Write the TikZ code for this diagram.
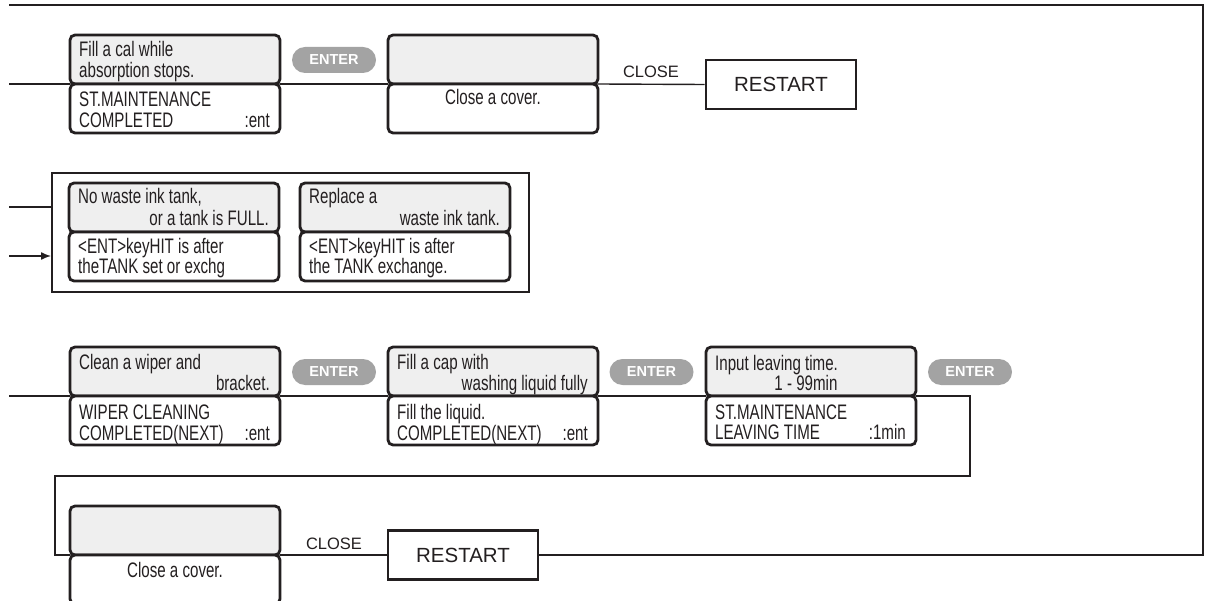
\documentclass[tikz,border=0pt]{standalone}
\usepackage{fontspec}
\setmainfont{Liberation Sans}
\newfontfamily\narrowsans{Liberation Sans}[FakeStretch=0.72]
\usetikzlibrary{calc,arrows.meta}
\definecolor{ink}{HTML}{231F20}
\definecolor{panelgray}{HTML}{EFEFEF}
\definecolor{pillgray}{HTML}{A3A3A3}
\begin{document}
\begin{tikzpicture}[x=1pt,y=-1pt,
  panel/.style={draw=ink, line width=2.8pt, rounded corners=5pt, minimum width=210, minimum height=49, inner sep=0pt, outer sep=0pt, anchor=north west},
  toppanel/.style={panel, fill=panelgray},
  botpanel/.style={panel, fill=white},
  txt/.style={font=\narrowsans\fontsize{21}{22}\selectfont, inner sep=0pt, text=ink},
  tl/.style={txt, anchor=base west},
  tr/.style={txt, anchor=base east},
  tc/.style={txt, anchor=base},
  pill/.style={fill=pillgray, rounded corners=13pt, minimum width=84, minimum height=26, inner sep=0pt, text=white, font=\bfseries\fontsize{14.5}{15}\selectfont},
  restartbox/.style={draw=ink, line width=2.8pt, minimum width=150, minimum height=49, inner sep=0pt, font=\fontsize{20.5}{21}\selectfont, text=ink},
  lbl/.style={font=\fontsize{16.5}{17}\selectfont, inner sep=0pt, text=ink, anchor=base},
  conn/.style={draw=ink, line width=1.4pt},
  framebox/.style={draw=ink, line width=2.3pt, inner sep=0pt, anchor=north west}]
\useasboundingbox (0,0) rectangle (1206,601);

% ---------- top row ----------
\node[toppanel] (b1t) at (70,35) {};
\node[botpanel] (b1b) at (70,84) {};
\node[tl] (t1a) at ($(b1t.north west)+(9,22)$) {Fill a cal while};
\node[tl] (t1b) at ($(b1t.north west)+(9,43)$) {absorption stops.};
\node[tl] (t1c) at ($(b1b.north west)+(9,23)$) {ST.MAINTENANCE};
\node[tl] (t1d) at ($(b1b.north west)+(9,44)$) {COMPLETED};
\node[tr] (t1e) at ($(b1b.north east)+(-10,44)$) {:ent};

\node[pill] (p1) at (334,60) {ENTER};

\node[toppanel] (b2t) at (388,35) {};
\node[botpanel] (b2b) at (388,84) {};
\node[tc] (t2a) at ($(b2b.north)+(0,21)$) {Close a cover.};

\node[lbl] (c1) at (651,78) {CLOSE};
\node[restartbox] (r1) at (781,84.5) {RESTART};

\coordinate (s1) at (9,84);
\draw[conn] (s1) -- (b1t.south west);
\draw[conn] (b1t.south east) -- (b2t.south west);
\draw[conn] (b2t.south east) -- (r1.west);

% ---------- middle group ----------
\node[framebox, minimum width=477, minimum height=119] (mbox) at (51,172) {};
\node[toppanel] (bat) at (69,183) {};
\node[botpanel] (bab) at (69,232) {};
\node[tl] (ta1) at ($(bat.north west)+(9,21)$) {No waste ink tank,};
\node[tr] (ta2) at ($(bat.north east)+(-10,43)$) {or a tank is FULL.};
\node[tl] (ta3) at ($(bab.north west)+(9,22)$) {<ENT>keyHIT is after};
\node[tl] (ta4) at ($(bab.north west)+(9,42)$) {theTANK set or exchg};

\node[toppanel] (bbt) at (300,183) {};
\node[botpanel] (bbb) at (300,232) {};
\node[tl] (tb1) at ($(bbt.north west)+(9,21)$) {Replace a};
\node[tr] (tb2) at ($(bbt.north east)+(-10,43)$) {waste ink tank.};
\node[tl] (tb3) at ($(bbb.north west)+(9,22)$) {<ENT>keyHIT is after};
\node[tl] (tb4) at ($(bbb.north west)+(9,42)$) {the TANK exchange.};

\coordinate (s2) at (9,207);
\coordinate (s3) at (9,256);
\draw[conn] (s2) -- (s2 -| mbox.west);
\draw[conn, -{Latex[length=10pt,width=8pt]}] (s3) -- (s3 -| mbox.west);

% ---------- bottom row ----------
\node[toppanel] (bct) at (70,347) {};
\node[botpanel] (bcb) at (70,396) {};
\node[tl] (tc1) at ($(bct.north west)+(9,22)$) {Clean a wiper and};
\node[tr] (tc2) at ($(bct.north east)+(-10,43)$) {bracket.};
\node[tl] (tc3) at ($(bcb.north west)+(9,23)$) {WIPER CLEANING};
\node[tl] (tc4) at ($(bcb.north west)+(9,44)$) {COMPLETED(NEXT)};
\node[tr] (tc5) at ($(bcb.north east)+(-10,44)$) {:ent};

\node[pill] (p2) at (334,372) {ENTER};

\node[toppanel] (bdt) at (388,347) {};
\node[botpanel] (bdb) at (388,396) {};
\node[tl] (td1) at ($(bdt.north west)+(9,22)$) {Fill a cap with};
\node[tr] (td2) at ($(bdt.north east)+(-10,43)$) {washing liquid fully};
\node[tl] (td3) at ($(bdb.north west)+(9,23)$) {Fill the liquid.};
\node[tl] (td4) at ($(bdb.north west)+(9,44)$) {COMPLETED(NEXT)};
\node[tr] (td5) at ($(bdb.north east)+(-10,44)$) {:ent};

\node[pill] (p3) at (651.5,372) {ENTER};

\node[toppanel] (bet) at (706,347) {};
\node[botpanel] (beb) at (706,396) {};
\node[tl] (te1) at ($(bet.north west)+(9,23)$) {Input leaving time.};
\node[tc] (te2) at ($(bet.north)+(-5,43)$) {1 - 99min};
\node[tl] (te3) at ($(beb.north west)+(9,23)$) {ST.MAINTENANCE};
\node[tl] (te4) at ($(beb.north west)+(9,43)$) {LEAVING TIME};
\node[tr] (te5) at ($(beb.north east)+(-10,43)$) {:1min};

\node[pill] (p4) at (970,372) {ENTER};

\coordinate (s4) at (9,396);
\draw[conn] (s4) -- (bct.south west);
\draw[conn] (bct.south east) -- (bdt.south west);
\draw[conn] (bdt.south east) -- (bet.south west);

% ---------- loop and last row ----------
\node[toppanel] (bft) at (70,506) {};
\node[botpanel] (bfb) at (70,555) {};
\node[tc] (tf1) at ($(bfb.north)+(0,22)$) {Close a cover.};

\node[lbl] (c2) at (334,549) {CLOSE};
\node[restartbox] (r2) at (463,555) {RESTART};

\coordinate (k1) at (970,396);
\coordinate (k2) at (970,476);
\coordinate (k3) at (55,476);
\coordinate (k4) at (55,555);
\draw[conn] (bet.south east) -- (k1) -- (k2) -- (k3) -- (k4) -- (bft.south west);
\draw[conn] (bft.south east) -- (r2.west);

\coordinate (e1) at (1203,555);
\coordinate (e2) at (1203,5);
\coordinate (e3) at (9,5);
\draw[conn, line width=1.6pt] (r2.east) -- (e1) -- (e2) -- (e3);
\end{tikzpicture}
\end{document}
